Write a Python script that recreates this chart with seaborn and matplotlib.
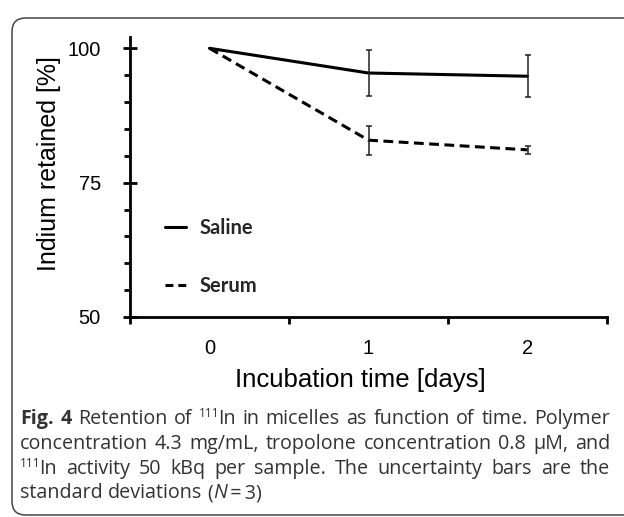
import matplotlib
matplotlib.use("Agg")
import matplotlib.pyplot as plt
import seaborn as sns
import pandas as pd
import numpy as np
from matplotlib.patches import FancyBboxPatch
from matplotlib.lines import Line2D

# ---- data ----
days = [0, 1, 2]
day_labels = ["0", "1", "2"]
saline = [100.0, 95.4, 94.8]
saline_sd = [0.0, 4.35, 3.95]
serum = [100.0, 82.9, 81.1]
serum_sd = [0.0, 2.7, 0.8]
series_names = ["Saline", "Serum"]
y_ticks = [50, 75, 100]
x_label = "Incubation time [days]"
y_label = "Indium retained [%]"

sns.set_theme(style="white")
plt.rcParams['font.family'] = ['Liberation Sans', 'DejaVu Sans']

W, H = 624, 517
fig = plt.figure(figsize=(W / 100, H / 100), dpi=100)
fig.patch.set_facecolor("white")

# rounded frame
frame = FancyBboxPatch((12 / W, 2 / H), 700 / W, (499 - 2) / H,
                       boxstyle="round,pad=0,rounding_size=0.022",
                       transform=fig.transFigure, fill=False,
                       edgecolor="#444444", linewidth=1.1, mutation_aspect=W / H)
fig.patches.append(frame)

ax_l, ax_r, ax_t, ax_b = 130, 607, 37, 317
ax = fig.add_axes([ax_l / W, 1 - ax_b / H, (ax_r - ax_l) / W, (ax_b - ax_t) / H])

df = pd.DataFrame({
    "day": days * 2,
    "value": saline + serum,
    "series": [series_names[0]] * 3 + [series_names[1]] * 3,
})
sns.lineplot(data=df, x="day", y="value", style="series",
             dashes={"Saline": "", "Serum": (3.2, 1.8)},
             color="black", linewidth=2.2, ax=ax, legend=False)

for vals, sds in ((saline, saline_sd), (serum, serum_sd)):
    ax.errorbar(days[1:], vals[1:], yerr=sds[1:], fmt="none",
                ecolor="#222222", elinewidth=1.1, capsize=2.4, capthick=1.1)

ax.set_xlim(-0.5, 2.5)
ax.set_ylim(50, 102.1)

for s in ["top", "right"]:
    ax.spines[s].set_visible(False)
for s in ["left", "bottom"]:
    ax.spines[s].set_color("black")
    ax.spines[s].set_linewidth(2.0)

# y ticks
ax.set_yticks(y_ticks)
ax.set_yticklabels([str(t) for t in y_ticks], fontsize=14.5)
ax.set_yticks(np.arange(50, 101, 5), minor=True)
ax.tick_params(axis="y", which="major", direction="inout", length=10, width=2.0,
               left=True, pad=16, labelcolor="black", color="black")
ax.tick_params(axis="y", which="minor", direction="out", length=4, width=2.0,
               left=True, color="black")

# x ticks: tick marks between categories, labels at categories
ax.set_xticks([-0.5, 0.5, 1.5, 2.5])
ax.set_xticklabels([])
ax.set_xticks(days, minor=True)
ax.set_xticklabels(day_labels, minor=True, fontsize=14.5)
ax.tick_params(axis="x", which="minor", length=0, pad=16, labelcolor="black")
ax.tick_params(axis="x", which="major", direction="out", length=5, width=2.0,
               bottom=True, color="black")

ax.set_xlabel(x_label, fontsize=18.5, color="black")
ax.set_ylabel(y_label, fontsize=18, color="black")
ax.xaxis.set_label_coords((360 - ax_l) / (ax_r - ax_l), -(368 - ax_b) / (ax_b - ax_t))
ax.yaxis.set_label_coords(-(ax_l - 61) / (ax_r - ax_l), (ax_b - 164) / (ax_b - ax_t))
ax.grid(False)

# legend
handles = [Line2D([], [], color="black", linewidth=2.2, linestyle="-"),
           Line2D([], [], color="black", linewidth=2.2, linestyle=(0, (2.6, 1.6)))]
leg = ax.legend(handles, series_names, loc="upper left",
                bbox_to_anchor=((147 - ax_l) / (ax_r - ax_l), (317 - 200) / (ax_b - ax_t)),
                bbox_transform=ax.transAxes, frameon=False, handlelength=1.05,
                handletextpad=0.65, labelspacing=1.9,
                prop={"family": "Lato", "weight": "bold", "size": 14.5})

# caption, justified
fig.canvas.draw()
renderer = fig.canvas.get_renderer()
base = {"family": "Open Sans", "size": 14.2, "color": "#333333"}
B = dict(base, weight="bold")
R = dict(base)
S = dict(base, size=8.5)
I = dict(base, style="italic")

def words(s, props=R):
    return [[(w, props, 0)] for w in s.split(" ")]

cap_lines = [
    [[("Fig.", B, 0)], [("4", B, 0)]] + words("Retention of") +
    [[("111", S, 7), ("In", R, 0)]] + words("in micelles as function of time. Polymer"),
    words("concentration 4.3 mg/mL, tropolone concentration 0.8 µM, and"),
    [[("111", S, 7), ("In", R, 0)]] + words("activity 50 kBq per sample. The uncertainty bars are the"),
    words("standard deviations") + [[("(", R, 0), ("N", I, 0), ("\u2009=\u20093)", R, 0)]],
]
justify = [True, True, True, False]
ys = [424, 449, 474, 498]
x0, x1 = 20, 610

def measure(txt, props):
    t = fig.text(0, 0, txt, **props)
    w = t.get_window_extent(renderer).width
    t.remove()
    return w

space_w = measure("a a", R) - measure("aa", R)
for line, just, y in zip(cap_lines, justify, ys):
    widths = []
    for word in line:
        ws = []
        for p in word:
            w = measure(p[0], p[1])
            if p[1] is S:
                w -= 1.5
            ws.append(w)
        widths.append(ws)
    total = sum(sum(w) for w in widths)
    gap = (x1 - x0 - total) / (len(line) - 1) if just else space_w
    x = x0
    for word, ws in zip(line, widths):
        for (txt, props, dy), w in zip(word, ws):
            fig.text(x / W, 1 - (y - dy) / H, txt, ha="left", va="baseline", **props)
            x += w
        x += gap

fig.savefig("out.png", dpi=100, facecolor="white")
